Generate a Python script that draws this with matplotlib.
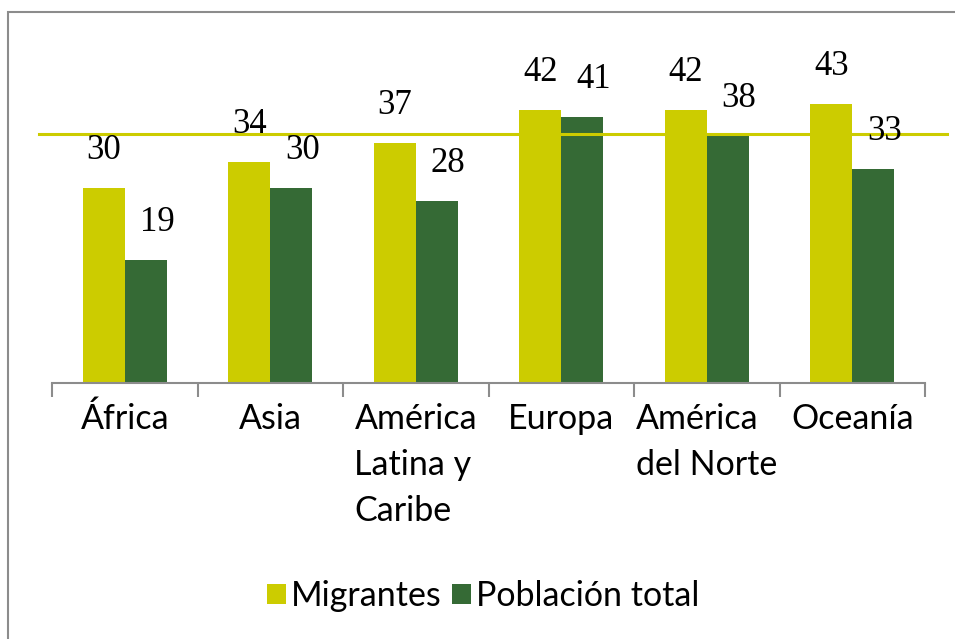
import matplotlib.pyplot as plt
import numpy as np
from matplotlib.patches import Rectangle

# datos
regiones = ["África", "Asia", "América\nLatina y\nCaribe", "Europa",
            "América\ndel Norte", "Oceanía"]
migrantes = [30, 34, 37, 42, 42, 43]
poblacion = [19, 30, 28, 41, 38, 33]
promedio = 38.3

amarillo = "#cccc00"
verde = "#356a35"
gris = "#8c8c8c"

fig = plt.figure(figsize=(9.55, 6.39), dpi=100)
ax = fig.add_axes([52 / 955, 255.7 / 639, 873 / 955, 325 / 639])

x = np.arange(len(regiones))
w = 0.289
ax.bar(x - w / 2, migrantes, w, color=amarillo, label="Migrantes")
ax.bar(x + w / 2, poblacion, w, color=verde, label="Población total")

# linea de referencia, sale un poco de los ejes
ax.plot([-0.59, 5.65], [promedio, promedio], color=amarillo, lw=2.2,
        clip_on=False, zorder=3)

etiq = dict(fontsize=25, family="Liberation Serif", ha="center", va="center",
            textcoords="offset points", annotation_clip=False)
for i in x:
    ax.annotate(str(migrantes[i]), (i - w / 2, migrantes[i]), xytext=(0, 27), **etiq)
    ax.annotate(str(poblacion[i]), (i + w / 2, poblacion[i]), xytext=(8, 27), **etiq)

ax.set_xlim(-0.5, 5.5)
ax.set_ylim(0, 50)
ax.set_yticks([])
for s in ["top", "right", "left"]:
    ax.spines[s].set_visible(False)
ax.spines["bottom"].set_color(gris)
ax.spines["bottom"].set_linewidth(1.5)

ax.set_xticks(np.arange(-0.5, 6, 1), minor=True)
ax.tick_params(axis="x", which="minor", length=10, width=1.5, color=gris,
               direction="out")
ax.set_xticks(x)
ax.set_xticklabels(regiones, fontsize=24.5, family="Lato", linespacing=1.55,
                   va="top", multialignment="left")
ax.tick_params(axis="x", which="major", length=0, pad=14)

fig.legend(loc="center", bbox_to_anchor=(483 / 955, 1 - 596 / 639), ncol=2,
           frameon=False, prop={"family": "Lato", "size": 24.5},
           handlelength=0.55, handleheight=0.55, handletextpad=0.15,
           columnspacing=0.3)

# marco exterior
fig.patches.append(Rectangle((8 / 955, -0.1), 1.1, 1 - 12 / 639 + 0.1,
                             transform=fig.transFigure, fill=False,
                             edgecolor=gris, lw=1.5))

fig.savefig("out.png", dpi=100)
